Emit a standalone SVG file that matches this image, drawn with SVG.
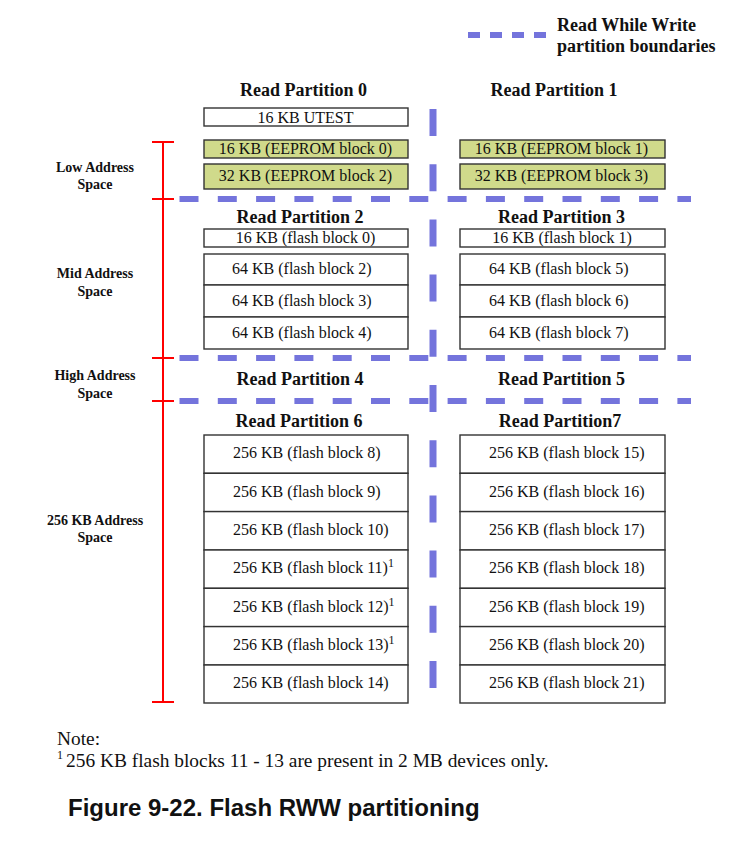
<svg xmlns="http://www.w3.org/2000/svg" width="746" height="862" viewBox="0 0 746 862">
<style>
.bg{fill:#ffffff}
.box{fill:#ffffff;stroke:#333333;stroke-width:1.4}
.green{fill:#d0da8b;stroke:#333333;stroke-width:1.4}
.t{font-family:"Liberation Serif","Times New Roman",serif;font-size:16px;fill:#111111}
.c{text-anchor:middle}
.sup{font-family:"Liberation Serif","Times New Roman",serif;font-size:12px;fill:#111111}
.title{font-family:"Liberation Serif","Times New Roman",serif;font-size:18px;font-weight:bold;fill:#111111;text-anchor:middle}
.lab{font-family:"Liberation Serif","Times New Roman",serif;font-size:14px;font-weight:bold;fill:#111111;text-anchor:middle}
.leg{font-family:"Liberation Serif","Times New Roman",serif;font-size:18px;font-weight:bold;fill:#111111}
.note{font-family:"Liberation Serif","Times New Roman",serif;font-size:19.4px;fill:#111111}
.cap{font-family:"Liberation Sans",Arial,sans-serif;font-size:24px;font-weight:bold;fill:#111111}
.hd{stroke:#7474dc;stroke-width:6;stroke-dasharray:19 19.3;fill:none}
.vd{stroke:#7474dc;stroke-width:7;stroke-dasharray:27 28.2;fill:none}
.red{stroke:#ff0000;stroke-width:2;fill:none}
</style>
<rect class="bg" x="0" y="0" width="746" height="862"/>

<g id="legend">
<line x1="468" y1="35" x2="547" y2="35" stroke="#7474dc" stroke-width="6" stroke-dasharray="12 10"/>
<text class="leg" x="557" y="31">Read While Write</text>
<text class="leg" x="557" y="52">partition boundaries</text>
</g>

<g id="connectors">
<line class="hd" x1="179.5" y1="199" x2="691" y2="199"/>
<line class="hd" x1="179.5" y1="358" x2="691" y2="358"/>
<line class="hd" x1="179.5" y1="401" x2="691" y2="401"/>
<line class="vd" x1="433" y1="109" x2="433" y2="688"/>
<g id="address-bar">
<line class="red" x1="163" y1="142" x2="163" y2="702"/>
<line class="red" x1="152" y1="142" x2="174" y2="142"/>
<line class="red" x1="152" y1="199" x2="174" y2="199"/>
<line class="red" x1="152" y1="358" x2="174" y2="358"/>
<line class="red" x1="152" y1="401" x2="174" y2="401"/>
<line class="red" x1="152" y1="702" x2="174" y2="702"/>
</g>
</g>

<g id="address-labels">
<text class="lab" x="95" y="172">Low Address</text>
<text class="lab" x="95" y="189">Space</text>
<text class="lab" x="95" y="278">Mid Address</text>
<text class="lab" x="95" y="296">Space</text>
<text class="lab" x="95" y="380">High Address</text>
<text class="lab" x="95" y="398">Space</text>
<text class="lab" x="95" y="525">256 KB Address</text>
<text class="lab" x="95" y="542">Space</text>
</g>

<g id="titles">
<text class="title" x="303.5" y="96">Read Partition 0</text>
<text class="title" x="554" y="96">Read Partition 1</text>
<text class="title" x="300" y="223">Read Partition 2</text>
<text class="title" x="561.5" y="223">Read Partition 3</text>
<text class="title" x="300" y="385">Read Partition 4</text>
<text class="title" x="561.5" y="385">Read Partition 5</text>
<text class="title" x="299" y="427">Read Partition 6</text>
<text class="title" x="560" y="427">Read Partition7</text>
</g>

<g id="utest"><rect class="box" x="204" y="108" width="204" height="18"/><text class="t c" x="305.5" y="123">16 KB UTEST</text></g>
<g id="eeprom0"><rect class="green" x="204" y="140" width="204" height="18"/><text class="t c" x="305.5" y="154">16 KB (EEPROM block 0)</text></g>
<g id="eeprom2"><rect class="green" x="204" y="164" width="204" height="25"/><text class="t c" x="305.5" y="181">32 KB (EEPROM block 2)</text></g>
<g id="eeprom1"><rect class="green" x="460" y="140" width="205" height="18"/><text class="t c" x="561.5" y="154">16 KB (EEPROM block 1)</text></g>
<g id="eeprom3"><rect class="green" x="460" y="164" width="205" height="25"/><text class="t c" x="561.5" y="181">32 KB (EEPROM block 3)</text></g>

<g id="fb0"><rect class="box" x="204" y="229" width="204" height="18"/><text class="t c" x="305.5" y="243">16 KB (flash block 0)</text></g>
<g id="fb1"><rect class="box" x="460" y="229" width="205" height="18"/><text class="t c" x="562" y="243">16 KB (flash block 1)</text></g>
<g id="fb2"><rect class="box" x="204" y="254" width="204" height="31"/><text class="t" x="232" y="274">64 KB (flash block 2)</text></g>
<g id="fb3"><rect class="box" x="204" y="285" width="204" height="32"/><text class="t" x="232" y="306">64 KB (flash block 3)</text></g>
<g id="fb4"><rect class="box" x="204" y="317" width="204" height="32"/><text class="t" x="232" y="338">64 KB (flash block 4)</text></g>
<g id="fb5"><rect class="box" x="460" y="254" width="205" height="31"/><text class="t" x="489" y="274">64 KB (flash block 5)</text></g>
<g id="fb6"><rect class="box" x="460" y="285" width="205" height="32"/><text class="t" x="489" y="306">64 KB (flash block 6)</text></g>
<g id="fb7"><rect class="box" x="460" y="317" width="205" height="32"/><text class="t" x="489" y="338">64 KB (flash block 7)</text></g>

<g id="fb8"><rect class="box" x="204" y="435" width="204" height="38.3"/><text class="t" x="233" y="458">256 KB (flash block 8)</text></g>
<g id="fb9"><rect class="box" x="204" y="473.3" width="204" height="38.3"/><text class="t" x="233" y="496.5">256 KB (flash block 9)</text></g>
<g id="fb10"><rect class="box" x="204" y="511.6" width="204" height="38.4"/><text class="t" x="233" y="535">256 KB (flash block 10)</text></g>
<g id="fb11"><rect class="box" x="204" y="550" width="204" height="38.3"/><text class="t" x="233" y="573">256 KB (flash block 11)<tspan class="sup" dy="-6">1</tspan></text></g>
<g id="fb12"><rect class="box" x="204" y="588.3" width="204" height="38.3"/><text class="t" x="233" y="611.5">256 KB (flash block 12)<tspan class="sup" dy="-6">1</tspan></text></g>
<g id="fb13"><rect class="box" x="204" y="626.6" width="204" height="38.4"/><text class="t" x="233" y="650">256 KB (flash block 13)<tspan class="sup" dy="-6">1</tspan></text></g>
<g id="fb14"><rect class="box" x="204" y="665" width="204" height="38"/><text class="t" x="233" y="688">256 KB (flash block 14)</text></g>

<g id="fb15"><rect class="box" x="460" y="435" width="205" height="38.3"/><text class="t" x="489" y="458">256 KB (flash block 15)</text></g>
<g id="fb16"><rect class="box" x="460" y="473.3" width="205" height="38.3"/><text class="t" x="489" y="496.5">256 KB (flash block 16)</text></g>
<g id="fb17"><rect class="box" x="460" y="511.6" width="205" height="38.4"/><text class="t" x="489" y="535">256 KB (flash block 17)</text></g>
<g id="fb18"><rect class="box" x="460" y="550" width="205" height="38.3"/><text class="t" x="489" y="573">256 KB (flash block 18)</text></g>
<g id="fb19"><rect class="box" x="460" y="588.3" width="205" height="38.3"/><text class="t" x="489" y="611.5">256 KB (flash block 19)</text></g>
<g id="fb20"><rect class="box" x="460" y="626.6" width="205" height="38.4"/><text class="t" x="489" y="650">256 KB (flash block 20)</text></g>
<g id="fb21"><rect class="box" x="460" y="665" width="205" height="38"/><text class="t" x="489" y="688">256 KB (flash block 21)</text></g>

<g id="note">
<text class="note" x="57" y="745">Note:</text>
<text class="sup" x="57" y="759">1</text>
<text class="note" x="66" y="767">256 KB flash blocks 11 - 13 are present in 2 MB devices only.</text>
</g>
<text class="cap" x="68" y="816">Figure 9-22. Flash RWW partitioning</text>
</svg>
